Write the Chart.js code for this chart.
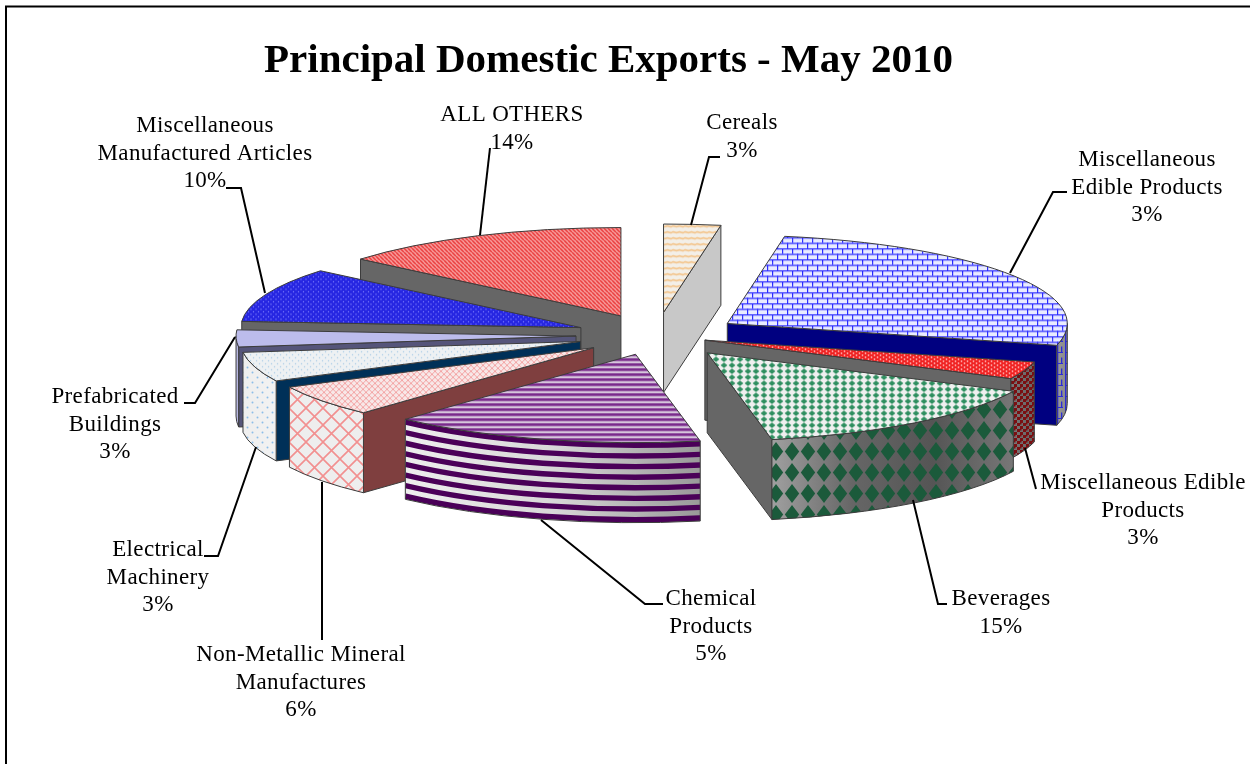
<!DOCTYPE html>
<html>
<head>
<meta charset="utf-8">
<style>html,body{margin:0;padding:0;background:#fff}canvas{display:block}</style>
<script src="https://cdn.jsdelivr.net/npm/chart.js@4"></script>
</head>
<body>
<canvas id="c" width="1250" height="764"></canvas>
<script>
// ---- data ----
const titleText = 'Principal Domestic Exports - May 2010';
const categories = ['Cereals','Miscellaneous Edible Products','Miscellaneous Edible Products','Beverages','Chemical Products','Non-Metallic Mineral Manufactures','Electrical Machinery','Prefabricated Buildings','Miscellaneous Manufactured Articles','ALL OTHERS'];
const sliceShares = [2.7, 26.3, 3.2, 14.8, 14.9, 5.8, 5.4, 3.1, 10, 13.9];
const printedPercents = ['3%','3%','3%','15%','5%','6%','3%','3%','10%','14%'];
const labelRows = [['Cereals'],['Miscellaneous','Edible Products'],['Miscellaneous Edible','Products'],['Beverages'],['Chemical','Products'],['Non-Metallic Mineral','Manufactures'],['Electrical','Machinery'],['Prefabricated','Buildings'],['Miscellaneous','Manufactured Articles'],['ALL OTHERS']];

// ---- layout and style ----
const R = 340, K = 0.26, DEPTH = 80;
const explode = [89, 85, 52, 84, 75, 78, 79, 80, 81, 83];
const labelPlace = [[742,123],[1147,160],[1143,483],[1001,599],[711,599],[301,655],[158,550],[115,397],[205,126],[512,115]];
const leaders = [
 [[720,157],[709,157],[691,225]],
 [[1067,192],[1053,192],[1010,273]],
 [[1036,489],[1025,448]],
 [[947,604],[938,604],[913,500]],
 [[663,604],[645,604],[541,520]],
 [[322,640],[322,482]],
 [[204,556],[218,556],[256,447]],
 [[184,403],[195,403],[235,337]],
 [[226,188],[241,188],[265,293]],
 [[490,148],[480,235]]
];
function tile(w,h,bg,draw){
  const c=document.createElement('canvas');c.width=w;c.height=h;
  const x=c.getContext('2d');
  if(bg){x.fillStyle=bg;x.fillRect(0,0,w,h);}
  draw(x,w,h);
  return c;
}
function pat(c,sy){
  const p=document.createElement('canvas').getContext('2d').createPattern(c,'repeat');
  if(sy) p.setTransform(new DOMMatrix().scale(1,sy));
  return p;
}
function diag(x,w,h,col,lw,both){
  x.strokeStyle=col;x.lineWidth=lw;x.beginPath();
  for(let i=-1;i<=1;i++){x.moveTo(i*w,0);x.lineTo(i*w+w,h);
    if(both){x.moveTo(i*w+w,0);x.lineTo(i*w,h);}}
  x.stroke();
}
function dots(x,pts,col,r){x.fillStyle=col;pts.forEach(p=>{x.beginPath();x.arc(p[0],p[1],r,0,7);x.fill();});}
function diamond(x,w,h,col,a,b){
  x.fillStyle=col;const cx=w/2,cy=h/2;
  x.beginPath();x.moveTo(cx-a,cy);x.lineTo(cx,cy-b);x.lineTo(cx+a,cy);x.lineTo(cx,cy+b);x.closePath();x.fill();
}
const S = 1/K;
const topFills = [
 pat(tile(12,6,'#f3efe8',x=>{x.strokeStyle='#f4c48a';x.lineWidth=1.6;x.beginPath();x.moveTo(0,2);x.bezierCurveTo(3,0.5,3,3.5,6,2);x.bezierCurveTo(9,0.5,9,3.5,12,2);x.stroke();}),S),
 pat(tile(10,11,'#e9ebff',x=>{x.fillStyle='#2a2aff';x.fillRect(0,0,10,1.2);x.fillRect(0,5.5,10,1.2);x.fillRect(2,0,1.2,5.5);x.fillRect(7,5.5,1.2,5.5);}),S),
 pat(tile(6,4,'#f02020',x=>{dots(x,[[1.5,1],[4.5,3]],'#ffb0b0',0.9);}),S),
 pat(tile(8,6,'#f0f0f0',x=>diamond(x,8,6,'#2f8f60',3.4,2.8)),S),
 pat(tile(5,5,'#d6c6dc',x=>{x.fillStyle='#7a2a8c';x.fillRect(0,0,5,2.7);}),S),
 pat(tile(6,6,'#f8e8e8',x=>diag(x,6,6,'#f3a4a4',1,true)),S),
 pat(tile(6,6,'#eef1f3',x=>dots(x,[[1.5,1.5],[4.5,4.5]],'#abcde8',0.7)),S),
 '#bcbcec',
 pat(tile(5,5,'#2626e2',x=>dots(x,[[1,1],[3.5,3.5]],'#7f7fff',0.7)),S),
 pat(tile(4,4,'#f9a5a5',x=>diag(x,4,4,'#e93434',1.5,false)),S)
];
const wallFills = ['#c8c8c8','#000080','#666666','#666666','#666666','#7f3f3f','#003058','#55557a','#666666','#666666'];
const rimStyle = [
 null,
 {stops:['#999','#888'],tile:tile(8,11,null,x=>{x.fillStyle='#2a2ad8';x.fillRect(1,0,1.3,11);x.fillRect(1,0,6,1);x.fillRect(5,5.5,1.3,5.5);})},
 {stops:['#777','#666'],tile:tile(6,6,null,x=>{x.fillStyle='#7a0f12';x.fillRect(0,0,3,3);x.fillRect(3,3,3,3);x.fillRect(0,3,1.5,1.5);})},
 {stops:['#a0a0a0','#666','#555','#777'],tile:tile(16,21,null,x=>diamond(x,16,21,'#1b5a3b',7.2,9.6))},
 {stops:['#eeeeee','#d8d8d8','#999999'],stripes:{color:'#4a0058',period:10.6,width:5.4}},
 {stops:['#eeeeee','#eeeeee'],tile:tile(17,17,null,x=>diag(x,17,17,'#f29090',1.6,true))},
 {stops:['#eeeeee','#f2f2f2'],tile:tile(10,10,null,x=>dots(x,[[2.5,2.5],[7.5,7.5]],'#8cbde8',1))},
 {stops:['#b8b8e2','#b8b8e2']},
 null,null
];
const TITLE_SHIFT = 47.5;

function faces(chart){
  const cy=(chart.chartArea.top+chart.chartArea.bottom)/2;
  return chart.getDatasetMeta(0).data.map((a,i)=>{
    const s=a.startAngle,e=a.endAngle;
    const ax=a.x, ay=cy+(a.y-cy)*K;
    return {i,a,s,e,ax,ay,mid:ay+K*R*0.5*Math.sin((s+e)/2)};
  });
}
function rimPath(ctx,f,p1,p2){
  ctx.beginPath();
  ctx.ellipse(f.ax,f.ay,R,R*K,0,p1,p2);
  ctx.ellipse(f.ax,f.ay+DEPTH,R,R*K,0,p2,p1,true);
  ctx.closePath();
}
const pie3d = {
  id:'pie3d',
  afterLayout(chart){chart.titleBlock.left-=TITLE_SHIFT;chart.titleBlock.right-=TITLE_SHIFT;},
  afterDatasetUpdate(chart){
    chart.getDatasetMeta(0).data.forEach((a,i)=>{
      const m=(a.startAngle+a.endAngle)/2;
      a.x+=Math.cos(m)*explode[i];a.y+=Math.sin(m)*explode[i];
    });
  },
  beforeDraw(chart){
    const ctx=chart.ctx;ctx.save();
    ctx.strokeStyle='#000';ctx.lineWidth=2;
    ctx.beginPath();ctx.moveTo(6,764);ctx.lineTo(6,6.5);ctx.lineTo(1250,6.5);ctx.stroke();
    ctx.restore();
  },
  beforeDatasetsDraw(chart){
    const ctx=chart.ctx, list=faces(chart).sort((p,q)=>p.mid-q.mid);
    ctx.save();
    ctx.lineWidth=1;ctx.strokeStyle='#3c3c3c';ctx.lineJoin='round';
    list.forEach(f=>{
      [[f.s,-Math.cos(f.s)],[f.e,Math.cos(f.e)]].forEach(([ang,vis])=>{
        if(vis<=0.0001) return;
        const ex=f.ax+R*Math.cos(ang), ey=f.ay+R*K*Math.sin(ang);
        ctx.beginPath();ctx.moveTo(f.ax,f.ay);ctx.lineTo(ex,ey);ctx.lineTo(ex,ey+DEPTH);ctx.lineTo(f.ax,f.ay+DEPTH);ctx.closePath();
        ctx.fillStyle=wallFills[f.i];ctx.fill();ctx.stroke();
      });
      const st=rimStyle[f.i];
      const p1=Math.max(f.s,0), p2=Math.min(f.e,Math.PI);
      if(st&&p2>p1){
        const x1=f.ax+R*Math.cos(p2), x2=f.ax+R*Math.cos(p1);
        rimPath(ctx,f,p1,p2);
        const g=ctx.createLinearGradient(x1,0,x2,0);
        st.stops.forEach((c,j)=>g.addColorStop(j/(st.stops.length-1),c));
        ctx.fillStyle=g;ctx.fill();
        if(st.tile){ctx.fillStyle=ctx.createPattern(st.tile,'repeat');ctx.fill();}
        if(st.stripes){
          ctx.save();rimPath(ctx,f,p1,p2);ctx.clip();
          ctx.strokeStyle=st.stripes.color;ctx.lineWidth=st.stripes.width;
          for(let d=st.stripes.width/2;d<DEPTH+st.stripes.period;d+=st.stripes.period){
            ctx.beginPath();ctx.ellipse(f.ax,f.ay+d,R,R*K,0,p1,p2);ctx.stroke();
          }
          ctx.restore();
        }
        rimPath(ctx,f,p1,p2);ctx.stroke();
      }
    });
    ctx.restore();
    const cy=(chart.chartArea.top+chart.chartArea.bottom)/2;
    ctx.save();
    ctx.translate(0,cy);ctx.scale(1,K);ctx.translate(0,-cy);
  },
  afterDatasetsDraw(chart){
    const ctx=chart.ctx;
    ctx.restore();
    ctx.save();
    ctx.lineWidth=1;ctx.strokeStyle='#3c3c3c';ctx.lineJoin='round';
    faces(chart).forEach(f=>{
      ctx.beginPath();ctx.moveTo(f.ax,f.ay);ctx.ellipse(f.ax,f.ay,R,R*K,0,f.s,f.e);ctx.closePath();ctx.stroke();
    });
    ctx.strokeStyle='#000';ctx.lineWidth=2;ctx.lineJoin='miter';
    leaders.forEach(l=>{ctx.beginPath();l.forEach((p,j)=>j?ctx.lineTo(p[0],p[1]):ctx.moveTo(p[0],p[1]));ctx.stroke();});
    ctx.fillStyle='#000';ctx.font='23px "Liberation Serif"';ctx.letterSpacing='0.35px';ctx.textAlign='center';ctx.textBaseline='middle';
    categories.forEach((_,i)=>{
      const rows=labelRows[i].concat(printedPercents[i]);
      rows.forEach((t,j)=>ctx.fillText(t,labelPlace[i][0],labelPlace[i][1]+j*27.6));
    });
    ctx.restore();
  }
};
new Chart(document.getElementById('c'),{
  type:'pie',
  data:{labels:categories,datasets:[{data:sliceShares,backgroundColor:topFills,borderWidth:0,radius:R,clip:false}]},
  options:{
    responsive:false,animation:false,
    layout:{padding:{left:62,right:0,top:0,bottom:186}},
    events:[],
    plugins:{
      legend:{display:false},tooltip:{enabled:false},
      title:{display:true,text:titleText,color:'#000',font:{family:'"Liberation Serif"',size:41,weight:'bold',lineHeight:1.2},padding:{top:37,bottom:6.8}}
    }
  },
  plugins:[pie3d]
});
</script>
</body>
</html>
